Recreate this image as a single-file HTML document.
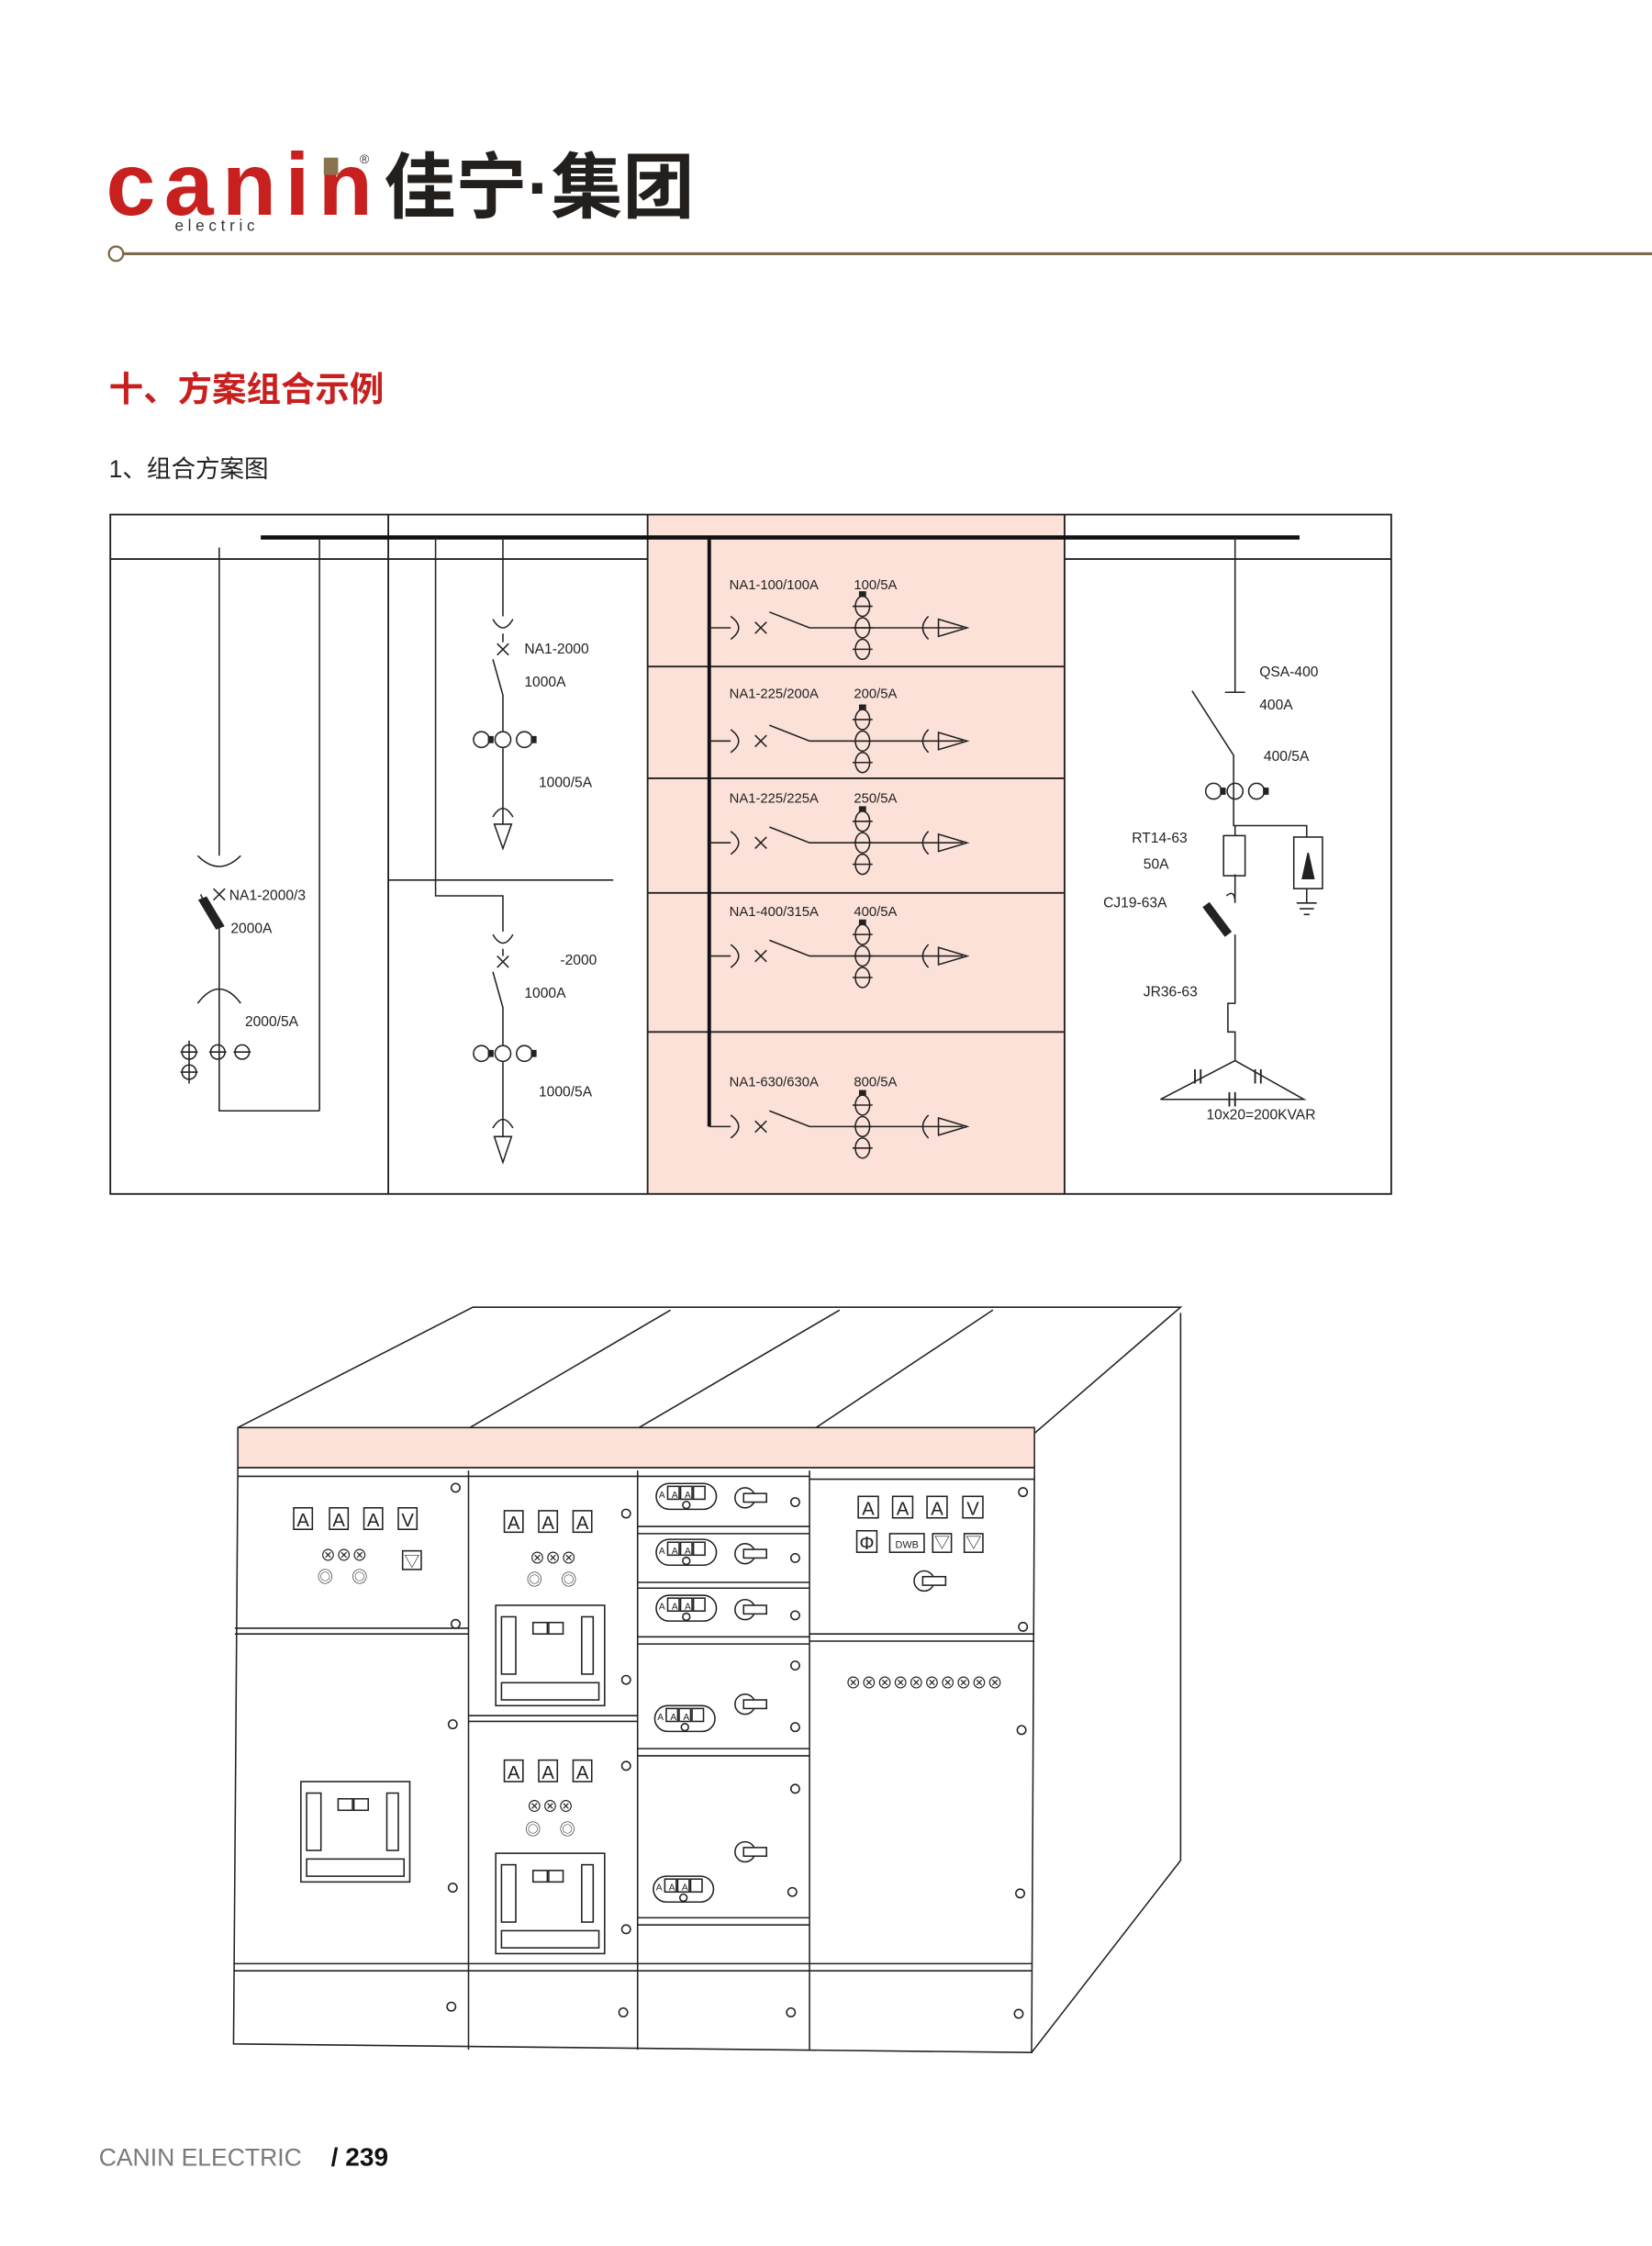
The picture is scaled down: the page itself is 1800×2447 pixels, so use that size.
<!DOCTYPE html>
<html><head><meta charset="utf-8"><style>
html,body{margin:0;padding:0;background:#fff;}
svg{display:block;}
text{font-family:"Liberation Sans","Noto Sans CJK SC",sans-serif;}
</style></head><body>
<svg width="1800" height="2447" viewBox="0 0 1153 1567" preserveAspectRatio="none" xmlns="http://www.w3.org/2000/svg">
<defs>
<g id="feed" fill="none" stroke="#222" stroke-width="1">
 <path d="M495 0H510M510 -8Q521 0 510 8M527 -4L535 4M527 4L535 -4M537 -11L565 0H672"/>
 <ellipse cx="602" cy="-15" rx="5" ry="7"/><ellipse cx="602" cy="0" rx="5" ry="7"/><ellipse cx="602" cy="15" rx="5" ry="7"/>
 <path d="M595 -15H609M595 0H609M595 15H609"/>
 <rect x="600" y="-25" width="4" height="3" fill="#222"/>
 <path d="M648 -8Q640 0 648 8M655 -6L675 0L655 6Z"/>
</g>
<g id="ct3h" fill="none" stroke="#222" stroke-width="1">
 <circle cx="-15" cy="0" r="5.5"/><circle cx="0" cy="0" r="5.5"/><circle cx="15" cy="0" r="5.5"/>
 <rect x="-10" y="-2" width="3" height="4" fill="#222"/><rect x="20" y="-2" width="3" height="4" fill="#222"/>
</g>
<g id="meter3" fill="none" stroke="#222"><rect x="-12" y="-9" width="42" height="18" rx="9"/>
 <rect x="-4" y="-7" width="8" height="9"/><rect x="5" y="-7" width="8" height="9"/><rect x="14" y="-7" width="8" height="9"/>
 <circle cx="9" cy="6" r="2.5"/>
</g>
<g id="handle" fill="none" stroke="#222"><circle cx="0" cy="0" r="7"/><rect x="-1" y="-3" width="16" height="6" fill="#fff"/></g>
<g id="brk" fill="none" stroke="#222"><rect x="0" y="0" width="76" height="70"/><rect x="4" y="8" width="10" height="40"/><rect x="60" y="8" width="8" height="40"/><rect x="26" y="12" width="10" height="8"/><rect x="37" y="12" width="10" height="8"/><rect x="4" y="54" width="68" height="12"/></g>
</defs>

<!-- header -->
<text x="74" y="150" font-size="62" font-weight="bold" fill="#c8201e" font-family="Liberation Sans" letter-spacing="-4" textLength="182">canin</text>
<rect x="226" y="110" width="10" height="12" fill="#8a7450"/>
<text x="251" y="114" font-size="9" fill="#333">®</text>
<text x="122" y="161" font-size="11" fill="#333" letter-spacing="3">electric</text>
<text x="268" y="148" font-size="50" font-weight="bold" fill="#231f1d" font-family="Noto Sans CJK SC,sans-serif">佳宁·集团</text>
<line x1="86" y1="177" x2="1153" y2="177" stroke="#7d6b4a" stroke-width="2"/>
<circle cx="81" cy="177" r="5" fill="#fff" stroke="#7d6b4a" stroke-width="1.5"/>
<text x="76" y="280" font-size="24" font-weight="bold" fill="#c8201e">十、方案组合示例</text>
<text x="76" y="333" font-size="17" fill="#222">1、组合方案图</text>

<!-- schematic -->
<rect x="452" y="359" width="291" height="474" fill="#fbe1d8"/>
<g fill="none" stroke="#222" stroke-width="1.2">
 <rect x="77" y="359" width="894" height="474"/>
 <line x1="77" y1="390" x2="452" y2="390"/><line x1="743" y1="390" x2="971" y2="390"/>
 <line x1="271" y1="359" x2="271" y2="833"/><line x1="452" y1="359" x2="452" y2="833"/><line x1="743" y1="359" x2="743" y2="833"/>
 <line x1="452" y1="465" x2="743" y2="465"/><line x1="452" y1="543" x2="743" y2="543"/><line x1="452" y1="623" x2="743" y2="623"/><line x1="452" y1="720" x2="743" y2="720"/>
</g>
<line x1="182" y1="375" x2="907" y2="375" stroke="#111" stroke-width="3"/>
<line x1="495" y1="375" x2="495" y2="786" stroke="#111" stroke-width="2.5"/>
<use href="#feed" transform="translate(0,438)"/>
<use href="#feed" transform="translate(0,517)"/>
<use href="#feed" transform="translate(0,588)"/>
<use href="#feed" transform="translate(0,667)"/>
<use href="#feed" transform="translate(0,786)"/>
<g font-size="9.5" fill="#222">
 <text x="509" y="411">NA1-100/100A</text><text x="596" y="411">100/5A</text>
 <text x="509" y="487">NA1-225/200A</text><text x="596" y="487">200/5A</text>
 <text x="509" y="560">NA1-225/225A</text><text x="596" y="560">250/5A</text>
 <text x="509" y="639">NA1-400/315A</text><text x="596" y="639">400/5A</text>
 <text x="509" y="758">NA1-630/630A</text><text x="596" y="758">800/5A</text>
</g>

<!-- column 1 -->
<g fill="none" stroke="#222" stroke-width="1">
 <path d="M153 382V597M138 597Q153 612 168 597M149 620L157 628M149 628L157 620M151 646L140 624M153 646V688M138 700Q153 680 168 700M153 688V775H223M223 375V775"/>
 <path d="M139 628L144 626L156 646L151 648Z" fill="#222"/>
 <circle cx="132" cy="734" r="5"/><circle cx="132" cy="748" r="5"/><circle cx="152" cy="734" r="5"/><circle cx="169" cy="734" r="5"/>
 <path d="M126 734H138M126 748H138M132 726V756M146 734H158M163 734H175"/>
</g>
<g font-size="10" fill="#222"><text x="160" y="628">NA1-2000/3</text><text x="161" y="651">2000A</text><text x="171" y="716">2000/5A</text></g>

<!-- column 2 -->
<g fill="none" stroke="#222" stroke-width="1">
 <path d="M304 375V625H351V650M351 375V430M344 432Q351 444 358 432M351 442V448M347 449L355 457M347 457L355 449M344 460L351 485V510M351 522V566M344 570Q351 558 358 570M351 566V575M345 575L351 592L357 575Z"/>
 <use href="#ct3h" transform="translate(351,516)"/>
 <line x1="271" y1="614" x2="428" y2="614"/>
 <path d="M344 652Q351 664 358 652M351 662V667M347 667L355 675M347 675L355 667M344 678L351 703V729M351 741V783M344 787Q351 775 358 787M351 783V793M345 793L351 811L357 793Z"/>
 <use href="#ct3h" transform="translate(351,735)"/>
</g>
<g font-size="10" fill="#222"><text x="366" y="456">NA1-2000</text><text x="366" y="479">1000A</text><text x="376" y="549">1000/5A</text>
<text x="391" y="673">-2000</text><text x="366" y="696">1000A</text><text x="376" y="765">1000/5A</text></g>

<!-- column 4 -->
<g fill="none" stroke="#222" stroke-width="1">
 <path d="M862 375V483M855 483H869M832 482L861 527V576H912V584M862 576V583M862 610V630M856 625Q862 620 862 630M862 652V700H857V720H862V740M810 767L862 740L910 767ZM810 767H910"/>
 <rect x="854" y="583" width="15" height="28"/>
 <rect x="903" y="584" width="20" height="36"/>
 <path d="M912 620V630M905 630H919M907 634H917M910 638H914"/>
 <path d="M909 613L913 595L917 613Z" fill="#222"/>
 <use href="#ct3h" transform="translate(862,552)"/>
 <path d="M840 633L844 630L859 650L855 653Z" fill="#222"/>
 <path d="M834 756V746M838 756V746M876 746V756M880 746V756M858 762V772M862 762V772" stroke-width="1.2"/>
</g>
<g font-size="10" fill="#222"><text x="879" y="472">QSA-400</text><text x="879" y="495">400A</text><text x="882" y="531">400/5A</text>
<text x="790" y="588">RT14-63</text><text x="798" y="606">50A</text><text x="770" y="633">CJ19-63A</text><text x="798" y="695">JR36-63</text><text x="842" y="781">10x20=200KVAR</text></g>

<!-- cabinet -->
<g fill="none" stroke="#222" stroke-width="1">
 <path d="M166 996L330 912H824L722 1000M824 916V1298L720 1432M328 996L468 914M446 996L586 914M568 997L693 914"/>
 <rect x="166" y="996" width="556" height="28" fill="#fbe1d8"/>
 <path d="M166 1024L163 1426L720 1432L722 1024Z" fill="#fff"/>
 <path d="M327 1026V1430M445 1026V1430M565 1026V1430"/>
 <path d="M166 1030H327M327 1030H445M445 1030H565M565 1032H722"/>
 <path d="M164 1136H327M164 1140H327M327 1197H445M327 1201H445M445 1065H565M445 1070H565M445 1104H565M445 1108H565M445 1142H565M445 1147H565M445 1220H565M445 1225H565M445 1338H565M445 1343H565M565 1140H722M565 1145H722M163 1370H720M163 1375H720"/>
 <g stroke-width="1">
 <circle cx="318" cy="1038" r="3"/><circle cx="318" cy="1133" r="3"/><circle cx="316" cy="1203" r="3"/><circle cx="316" cy="1317" r="3"/><circle cx="315" cy="1400" r="3"/>
 <circle cx="437" cy="1056" r="3"/><circle cx="437" cy="1172" r="3"/><circle cx="437" cy="1232" r="3"/><circle cx="437" cy="1346" r="3"/><circle cx="435" cy="1404" r="3"/>
 <circle cx="555" cy="1048" r="3"/><circle cx="555" cy="1087" r="3"/><circle cx="555" cy="1127" r="3"/><circle cx="555" cy="1162" r="3"/><circle cx="555" cy="1205" r="3"/><circle cx="555" cy="1248" r="3"/><circle cx="553" cy="1320" r="3"/><circle cx="552" cy="1404" r="3"/>
 <circle cx="714" cy="1041" r="3"/><circle cx="714" cy="1135" r="3"/><circle cx="713" cy="1207" r="3"/><circle cx="712" cy="1321" r="3"/><circle cx="711" cy="1405" r="3"/>
 </g>
 <use href="#meter3" transform="translate(470,1044)"/><use href="#meter3" transform="translate(470,1083)"/><use href="#meter3" transform="translate(470,1122)"/><use href="#meter3" transform="translate(469,1199)"/><use href="#meter3" transform="translate(468,1318)"/>
 <use href="#handle" transform="translate(520,1045)"/><use href="#handle" transform="translate(520,1084)"/><use href="#handle" transform="translate(520,1123)"/><use href="#handle" transform="translate(520,1189)"/><use href="#handle" transform="translate(520,1292)"/><use href="#handle" transform="translate(645,1103)"/>
 <use href="#brk" transform="translate(346,1120)"/><use href="#brk" transform="translate(346,1293)"/><use href="#brk" transform="translate(210,1243)"/>
 <rect x="205" y="1052" width="13" height="15"/><rect x="230" y="1052" width="13" height="15"/><rect x="254" y="1052" width="13" height="15"/><rect x="278" y="1052" width="13" height="15"/>
 <rect x="352" y="1054" width="13" height="15"/><rect x="376" y="1054" width="13" height="15"/><rect x="400" y="1054" width="13" height="15"/>
 <rect x="352" y="1228" width="13" height="15"/><rect x="376" y="1228" width="13" height="15"/><rect x="400" y="1228" width="13" height="15"/>
 <rect x="599" y="1044" width="14" height="15"/><rect x="623" y="1044" width="14" height="15"/><rect x="647" y="1044" width="14" height="15"/><rect x="672" y="1044" width="14" height="15"/>
 <rect x="598" y="1068" width="14" height="15"/><rect x="621" y="1070" width="24" height="13"/><rect x="651" y="1070" width="13" height="13"/><rect x="673" y="1070" width="13" height="13"/>
 <rect x="281" y="1082" width="13" height="13"/>
</g>
<g font-size="13" fill="#222" text-anchor="middle">
 <text x="211.5" y="1065">A</text><text x="236.5" y="1065">A</text><text x="260.5" y="1065">A</text><text x="284.5" y="1065">V</text>
 <text x="358.5" y="1067">A</text><text x="382.5" y="1067">A</text><text x="406.5" y="1067">A</text>
 <text x="358.5" y="1241">A</text><text x="382.5" y="1241">A</text><text x="406.5" y="1241">A</text>
 <text x="606" y="1057">A</text><text x="630" y="1057">A</text><text x="654" y="1057">A</text><text x="679" y="1057">V</text>
 <text x="605" y="1081">Φ</text>
</g>
<g font-size="6.5" fill="#222" text-anchor="middle">
 <text x="462" y="1045">A</text><text x="471" y="1045">A</text><text x="480" y="1045">A</text>
 <text x="462" y="1084">A</text><text x="471" y="1084">A</text><text x="480" y="1084">A</text>
 <text x="462" y="1123">A</text><text x="471" y="1123">A</text><text x="480" y="1123">A</text>
 <text x="461" y="1200">A</text><text x="470" y="1200">A</text><text x="479" y="1200">A</text>
 <text x="460" y="1319">A</text><text x="469" y="1319">A</text><text x="478" y="1319">A</text>
 <text x="633" y="1080" font-size="7">DWB</text>
</g>
<g fill="#222" font-size="11" text-anchor="middle">
 <text x="287.5" y="1093">▽</text><text x="657.5" y="1080">▽</text><text x="679.5" y="1080">▽</text>
 <text x="240" y="1089">⊗⊗⊗</text><text x="386" y="1091">⊗⊗⊗</text><text x="384" y="1264">⊗⊗⊗</text>
 <text x="227" y="1104">◎</text><text x="251" y="1104">◎</text>
 <text x="373" y="1106">◎</text><text x="397" y="1106">◎</text>
 <text x="372" y="1280">◎</text><text x="396" y="1280">◎</text>
 <text x="645" y="1178">⊗⊗⊗⊗⊗⊗⊗⊗⊗⊗</text>
</g>

<!-- footer -->
<text x="69" y="1511" font-size="17" fill="#7a7a7a">CANIN ELECTRIC</text>
<text x="231" y="1511" font-size="18" font-weight="bold" fill="#111">/ 239</text>
</svg>
</body></html>
